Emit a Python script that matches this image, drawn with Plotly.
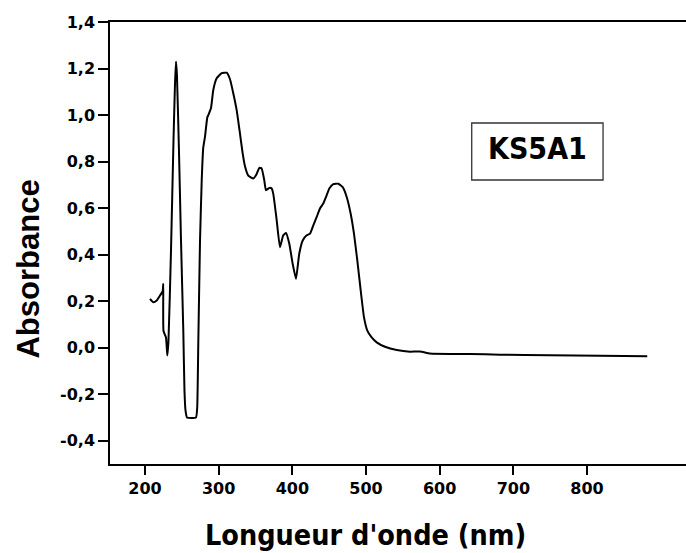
import plotly.graph_objects as go

# Data
wavelength_nm = [206.8, 211.3, 215.9, 220.4, 224.0, 224.8, 225.1, 228.5, 230.3, 231.9,
                 235.3, 238.7, 240.7, 242.1, 243.4, 246.1, 248.9, 252.0, 253.6, 255.0,
                 257.0, 269.2, 270.9, 272.4, 274.7, 277.0, 279.1, 281.4, 284.6, 286.0,
                 289.6, 292.7, 297.3, 304.1, 310.9, 315.4, 319.9, 324.5, 328.9, 332.6,
                 335.7, 340.2, 347.0, 350.7, 355.2, 358.4, 361.9, 364.2, 369.0, 372.0,
                 374.2, 378.8, 383.2, 387.7, 391.4, 395.9, 400.5, 405.0, 409.4, 414.1,
                 419.5, 424.0, 428.5, 433.1, 437.5, 442.0, 446.6, 450.2, 455.6, 462.4,
                 468.4, 473.8, 479.2, 483.7, 488.2, 492.8, 497.3, 501.8, 507.7, 514.5,
                 525.8, 541.7, 559.7, 573.3, 586.9, 614.0, 641.2, 681.9, 749.7, 817.6,
                 881.8]
absorbance = [0.210, 0.195, 0.203, 0.224, 0.243, 0.275, 0.073, 0.044, -0.034, 0.030,
              0.418, 0.892, 1.130, 1.230, 1.170, 0.850, 0.460, 0.073, -0.185, -0.270,
              -0.300, -0.300, -0.257, 0.030, 0.461, 0.720, 0.860, 0.906, 0.990, 1.000,
              1.030, 1.108, 1.158, 1.180, 1.182, 1.154, 1.093, 1.020, 0.921, 0.835,
              0.780, 0.740, 0.727, 0.741, 0.773, 0.770, 0.720, 0.677, 0.687, 0.684,
              0.660, 0.547, 0.432, 0.483, 0.493, 0.447, 0.360, 0.296, 0.404, 0.461,
              0.483, 0.490, 0.526, 0.562, 0.598, 0.620, 0.655, 0.684, 0.703, 0.705,
              0.690, 0.648, 0.576, 0.490, 0.375, 0.246, 0.130, 0.073, 0.044, 0.023,
              0.004, -0.010, -0.017, -0.016, -0.025, -0.027, -0.027, -0.030, -0.033, -0.035,
              -0.037]

x_tick_vals = [200, 300, 400, 500, 600, 700, 800]
x_tick_text = ["200", "300", "400", "500", "600", "700", "800"]
y_tick_vals = [-0.4, -0.2, 0.0, 0.2, 0.4, 0.6, 0.8, 1.0, 1.2, 1.4]
y_tick_text = ["-0,4", "-0,2", "0,0", "0,2", "0,4", "0,6", "0,8", "1,0", "1,2", "1,4"]

sample_label = "KS5A1"
x_title = "Longueur d'onde (nm)"
y_title = "Absorbance"

fig = go.Figure()
fig.add_trace(go.Scatter(
    x=wavelength_nm, y=absorbance, mode="lines",
    line=dict(color="black", width=2, shape="spline", smoothing=0.4),
    showlegend=False, hoverinfo="skip"))

tick_font = dict(family="DejaVu Sans", size=16, color="black", weight="bold")

fig.update_layout(
    width=686, height=553,
    margin=dict(l=110, r=0, t=22, b=89),
    paper_bgcolor="white", plot_bgcolor="white",
    xaxis=dict(range=[152.5, 934.4], showgrid=False, zeroline=False,
               showline=True, linecolor="black", linewidth=1.5, mirror=True,
               ticks="outside", ticklen=9, tickwidth=1.5, tickcolor="black",
               tickvals=x_tick_vals, ticktext=x_tick_text, tickfont=tick_font),
    yaxis=dict(range=[-0.5, 1.4], showgrid=False, zeroline=False,
               showline=True, linecolor="black", linewidth=1.5,
               ticks="outside", ticklen=10, tickwidth=1.5, tickcolor="black",
               tickvals=y_tick_vals, ticktext=y_tick_text, tickfont=tick_font),
)

fig.add_shape(type="rect", xref="paper", yref="paper",
              x0=0.628, x1=0.856, y0=0.6425, y1=0.7715,
              line=dict(color="#333333", width=1.3), fillcolor="white")
fig.add_annotation(xref="paper", yref="paper", x=0.7425, y=0.713,
                   text=sample_label, showarrow=False, xanchor="center", yanchor="middle",
                   font=dict(family="DejaVu Sans Condensed, DejaVu Sans", size=30,
                             color="black", weight="bold"))
fig.add_annotation(xref="paper", yref="paper", x=0.4444, y=-0.162,
                   text=x_title, showarrow=False, xanchor="center", yanchor="middle",
                   font=dict(family="DejaVu Sans Condensed, DejaVu Sans", size=28.5,
                             color="black", weight="bold"))
fig.add_annotation(xref="paper", yref="paper", x=-0.1406, y=0.44,
                   text=y_title, showarrow=False, xanchor="center", yanchor="middle",
                   textangle=-90,
                   font=dict(family="Liberation Sans, Arial", size=31,
                             color="black", weight="bold"))

fig.write_html(
    "out.html",
    config={"displayModeBar": False},
    post_script="document.body.style.margin='0';document.body.style.overflow='hidden';",
)
